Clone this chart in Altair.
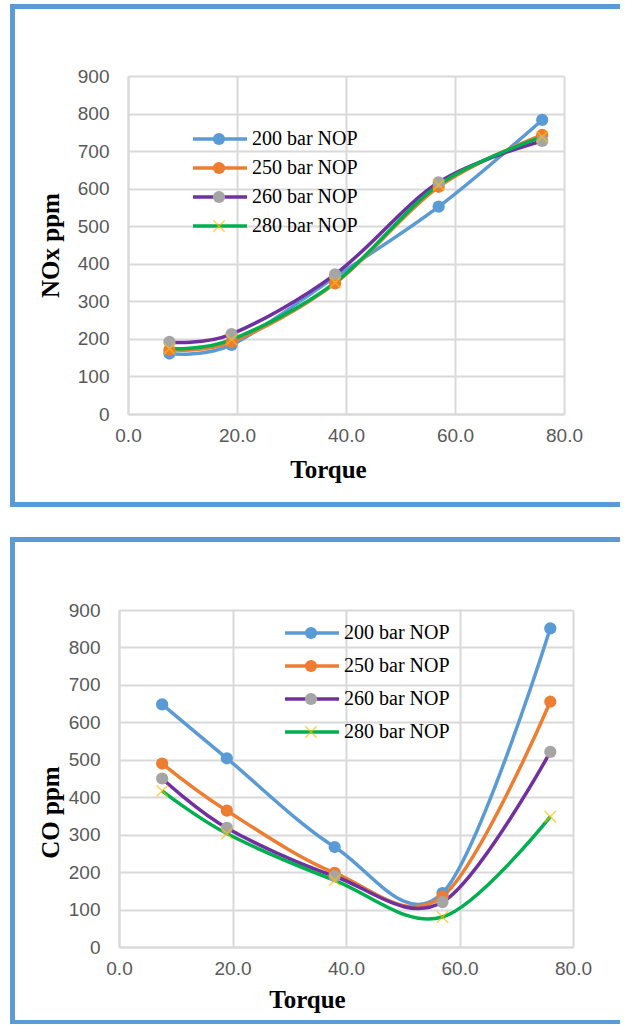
import altair as alt
import pandas as pd

# ---------------- data ----------------
torque = [7.6, 19.0, 38.0, 57.0, 76.0]
series = ["200 bar NOP", "250 bar NOP", "260 bar NOP", "280 bar NOP"]

nox_200 = [161, 184, 365, 552, 783]
nox_250 = [171, 192, 348, 605, 743]
nox_260 = [192, 213, 372, 617, 727]
nox_280 = [174, 198, 350, 610, 738]

co_200 = [648, 504, 267, 144, 851]
co_250 = [490, 364, 198, 135, 655]
co_260 = [450, 318, 189, 120, 521]
co_280 = [417, 303, 178, 80, 348]

line_colors = ["#5B9BD5", "#ED7D31", "#7030A0", "#00B050"]
marker_colors = ["#5B9BD5", "#ED7D31", "#A5A5A5", "#FFC000"]
y_ticks = [0, 100, 200, 300, 400, 500, 600, 700, 800, 900]
x_ticks = [0, 20, 40, 60, 80]

FRAME = "#5B9BD5"
GRID = "#D9D9D9"
XPATH = "M-1,-1L1,1M-1,1L1,-1"


def long_df(vals):
    rows = []
    for s, v in zip(series, vals):
        for t, y in zip(torque, v):
            rows.append({"torque": t, "series": s, "value": y})
    return pd.DataFrame(rows)


def panel(vals, ytitle, w, h, ytx, yty, xtx, xty, leg, frame):
    df = long_df(vals)
    base = alt.Chart(df)
    xenc = alt.X(
        "torque:Q",
        scale=alt.Scale(domain=[0, 80], nice=False),
        axis=alt.Axis(
            values=x_ticks, format=".1f", title="Torque", grid=True,
            gridColor=GRID, gridWidth=2, domainColor=GRID, domainWidth=2,
            ticks=False, labelFont="Liberation Sans", labelFontSize=19,
            labelColor="#595959", labelPadding=12, labelFlush=False,
            labelOverlap=False,
            titleFont="Liberation Serif", titleFontSize=25, titleFontWeight="bold",
            titleColor="black", titleX=xtx, titleY=xty, titleAlign="center",
            titleBaseline="alphabetic",
        ),
    )
    yenc = alt.Y(
        "value:Q",
        scale=alt.Scale(domain=[0, 900], nice=False, zero=True),
        axis=alt.Axis(
            values=y_ticks, tickCount=10, format="d", title=ytitle, grid=True,
            gridColor=GRID, gridWidth=2, domainColor=GRID, domainWidth=2,
            ticks=False, labelFont="Liberation Sans", labelFontSize=19,
            labelColor="#595959", labelPadding=19, labelFlush=False,
            labelOverlap=False,
            titleFont="Liberation Serif", titleFontSize=25, titleFontWeight="bold",
            titleColor="black", titleX=ytx, titleY=yty, titleAngle=270,
            titleAlign="center", titleBaseline="middle",
        ),
    )
    cscale = alt.Scale(domain=series, range=line_colors)
    fscale = alt.Scale(domain=series, range=marker_colors)

    lines = base.mark_line(interpolate="cardinal", strokeWidth=3.5).encode(
        x=xenc, y=yenc, color=alt.Color("series:N", scale=cscale, legend=None),
        order=alt.Order("torque:Q"),
    )
    dots = base.transform_filter(alt.datum.series != series[3]).mark_circle(
        size=150, opacity=1
    ).encode(
        x=xenc, y=yenc,
        fill=alt.Fill("series:N", scale=fscale, legend=None),
    )
    xs = base.transform_filter(alt.datum.series == series[3]).mark_point(
        shape=XPATH, size=130, stroke="#FFC000", strokeWidth=1.5, filled=False
    ).encode(x=xenc, y=yenc)
    main = alt.layer(lines, dots, xs)

    # manual legend
    lx1, lx2, lmid, ltx, ly0, ly1 = leg
    ldf = pd.DataFrame({"series": series})
    lb = alt.Chart(ldf)
    ly = alt.Y("series:N", scale=alt.Scale(type="point", domain=series,
                                           range=[ly0, ly1], padding=0), axis=None)
    lrule = lb.mark_rule(strokeWidth=3.5).encode(
        x=alt.value(lx1), x2=alt.value(lx2), y=ly,
        color=alt.Color("series:N", scale=cscale, legend=None),
    )
    ldots = lb.transform_filter(alt.datum.series != series[3]).mark_circle(
        size=150, opacity=1
    ).encode(x=alt.value(lmid), y=ly,
             fill=alt.Fill("series:N", scale=fscale, legend=None))
    lxs = lb.transform_filter(alt.datum.series == series[3]).mark_point(
        shape=XPATH, size=130, stroke="#FFC000", strokeWidth=1.5, filled=False
    ).encode(x=alt.value(lmid), y=ly)
    ltext = lb.mark_text(align="left", baseline="middle", font="Liberation Serif",
                         fontSize=20, color="black").encode(
        x=alt.value(ltx), y=ly, text="series:N")
    legend = alt.layer(lrule, ldots, lxs, ltext)

    # blue frame (top, left, bottom edges)
    fl, ft, fb, fr, bw = frame
    one = alt.Chart(pd.DataFrame({"k": [0]}))
    ftop = one.mark_rule(stroke=FRAME, strokeWidth=5).encode(
        x=alt.value(fl - 2.5), x2=alt.value(fr), y=alt.value(ft))
    fleft = one.mark_rule(stroke=FRAME, strokeWidth=5).encode(
        x=alt.value(fl), y=alt.value(ft - 2.5), y2=alt.value(fb + bw / 2))
    fbot = one.mark_rule(stroke=FRAME, strokeWidth=bw).encode(
        x=alt.value(fl - 2.5), x2=alt.value(fr), y=alt.value(fb))
    framel = alt.layer(ftop, fleft, fbot)

    return alt.layer(main, legend, framel).resolve_scale(y="independent").properties(
        width=w, height=h)


top = panel(
    [nox_200, nox_250, nox_260, nox_280], "NOx ppm", 436, 338,
    ytx=-78, yty=169, xtx=200, xty=63,
    leg=(65, 119, 91, 124, 63, 150),
    frame=(-115.5, -69.5, 428.5, 492, 5),
)
bottom = panel(
    [co_200, co_250, co_260, co_280], "CO ppm", 454, 337,
    ytx=-69, yty=202, xtx=188, xty=60,
    leg=(166, 220, 192, 225, 23, 122),
    frame=(-106.5, -70.5, 412, 501, 4),
)

chart = alt.vconcat(top, bottom, spacing=196, bounds="flush", center=True).properties(
    padding={"left": 7, "top": 1, "right": 0, "bottom": 0}
).configure_view(strokeWidth=0)

chart.save("out.html", embed_options={"renderer": "svg", "actions": False})
